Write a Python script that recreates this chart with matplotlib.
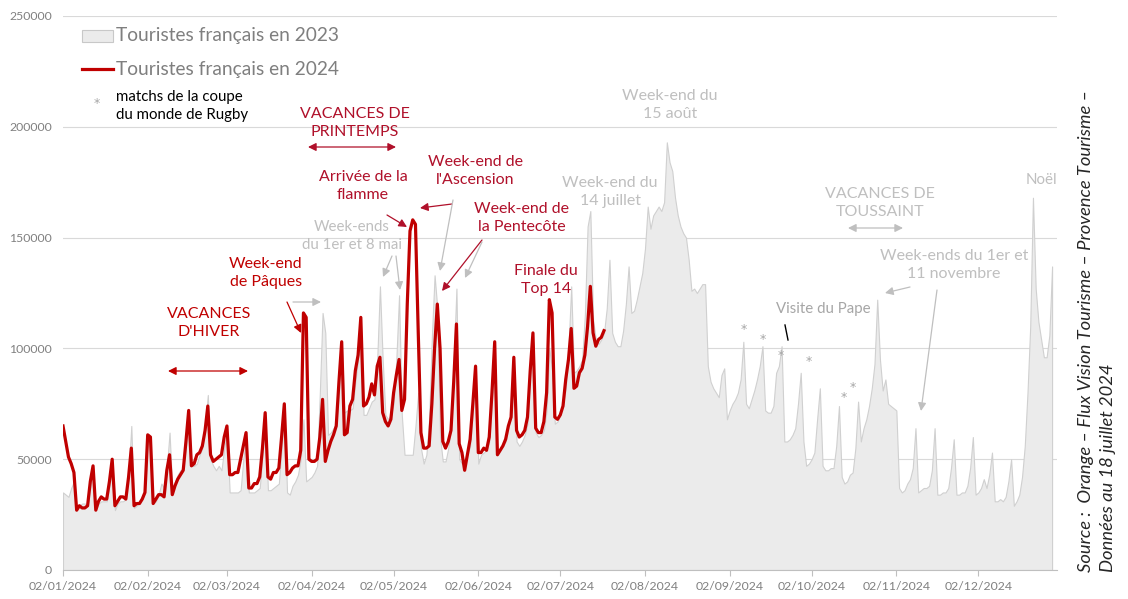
import pandas as pd
import matplotlib
matplotlib.use('Agg')
import matplotlib.pyplot as plt
import matplotlib.dates as mdates
from matplotlib.patches import Rectangle
from matplotlib.lines import Line2D

plt.rcParams['font.family'] = ['Lato', 'DejaVu Sans']

# French tourists per day (thousands); each row is one week, Tuesday -> Monday
tour_2023 = [
    35, 34, 33, 37, 40, 27, 29,
    30, 30, 29, 37, 46, 27, 30,
    31, 31, 31, 38, 49, 27, 30,
    31, 31, 32, 43, 65, 28, 29,
    31, 32, 35, 60, 58, 30, 31,
    34, 39, 37, 46, 62, 36, 40,
    43, 45, 46, 56, 70, 47, 47,
    48, 52, 55, 65, 79, 50, 47,
    45, 47, 45, 55, 62, 35, 35,
    35, 35, 36, 50, 60, 35, 35,
    35, 36, 37, 52, 70, 36, 36,
    37, 38, 39, 55, 73, 35, 34,
    38, 40, 43, 50, 68, 40, 41,
    42, 44, 47, 80, 116, 107, 61,
    62, 64, 66, 80, 103, 71, 72,
    72, 73, 85, 95, 112, 70, 70,
    73, 76, 77, 95, 128, 95, 70,
    68, 70, 75, 95, 124, 70, 52,
    52, 52, 52, 65, 80, 55, 48,
    52, 68, 105, 133, 118, 60, 49,
    49, 55, 65, 95, 127, 50, 48,
    47, 52, 56, 72, 90, 48, 52,
    53, 54, 58, 78, 100, 53, 54,
    56, 58, 64, 70, 93, 58, 56,
    58, 61, 66, 88, 104, 62, 60,
    61, 63, 72, 100, 90, 66, 67,
    70, 75, 82, 100, 128, 89, 90,
    92, 95, 115, 155, 162, 113, 104,
    102, 104, 107, 118, 140, 107, 103,
    101, 101, 108, 120, 137, 116, 117,
    122, 128, 134, 145, 164, 154, 160,
    162, 164, 162, 166, 193, 184, 180,
    168, 160, 155, 152, 150, 140, 126,
    127, 125, 127, 129, 129, 92, 85,
    82, 80, 78, 88, 91, 68, 72,
    75, 77, 80, 86, 103, 75, 73,
    77, 81, 86, 92, 101, 72, 71,
    71, 74, 89, 92, 101, 58, 58,
    59, 61, 64, 75, 89, 58, 47,
    48, 50, 53, 68, 82, 47, 45,
    45, 46, 46, 56, 74, 42, 39,
    40, 43, 44, 55, 76, 58, 64,
    68, 74, 82, 93, 122, 95, 81,
    86, 75, 74, 73, 72, 37, 35,
    36, 39, 41, 46, 64, 35, 36,
    37, 37, 38, 45, 64, 34, 34,
    35, 35, 37, 46, 59, 34, 34,
    35, 35, 38, 46, 60, 34, 35,
    37, 41, 37, 43, 53, 31, 31,
    32, 31, 33, 40, 50, 29, 31,
    34, 42, 56, 80, 110, 168, 127,
    112, 104, 96, 96, 106, 137,
]

tour_2024 = [
    65, 58, 51, 48, 44, 27, 29,
    28, 28, 29, 40, 47, 27, 31,
    33, 32, 32, 40, 50, 29, 31,
    33, 33, 32, 42, 55, 29, 30,
    30, 32, 35, 61, 60, 30, 32,
    34, 34, 33, 45, 52, 34, 38,
    41, 43, 45, 58, 72, 47, 48,
    52, 53, 56, 63, 74, 52, 49,
    50, 51, 52, 60, 65, 43, 43,
    44, 44, 50, 56, 62, 37, 37,
    39, 39, 42, 55, 71, 42, 41,
    44, 44, 46, 60, 75, 43, 44,
    46, 47, 47, 54, 116, 114, 50,
    49, 49, 50, 60, 77, 49, 54,
    58, 61, 65, 85, 103, 61, 62,
    74, 77, 90, 97, 114, 74, 75,
    78, 84, 79, 92, 96, 71, 67,
    65, 68, 80, 88, 95, 72, 77,
    120, 153, 158, 156, 108, 62, 55,
    55, 56, 75, 100, 120, 100, 58,
    55, 58, 63, 85, 111, 57, 53,
    45, 52, 59, 75, 92, 53, 53,
    55, 54, 60, 80, 103, 52, 54,
    56, 59, 65, 69, 96, 63, 60,
    61, 63, 69, 90, 107, 64, 62,
    62, 67, 80, 122, 116, 69, 68,
    70, 74, 86, 95, 109, 82, 83,
    89, 91, 97, 110, 128, 107, 101,
    104, 105, 108,
]

y_ticks = [0, 50000, 100000, 150000, 200000, 250000]
tick_dates = [pd.Timestamp(2024, m, 2) for m in range(1, 13)]

W, H = 1128, 599
start = pd.Timestamp('2024-01-02')
x23 = pd.date_range(start, periods=len(tour_2023), freq='D')
x24 = pd.date_range(start, periods=len(tour_2024), freq='D')
y23 = [v * 1000 for v in tour_2023]
y24 = [v * 1000 for v in tour_2024]


def P(x, y):
    # pixel position in the picture -> figure fraction
    return (x / W, 1 - y / H)


fig = plt.figure(figsize=(W / 100, H / 100), dpi=100)
ax = fig.add_axes([63 / W, 29 / H, 994 / W, 554 / H])

ax.fill_between(x23, 0, y23, facecolor='#EBEBEB', edgecolor='#D0D0D0', lw=0.8, zorder=2)
ax.plot(x24, y24, color='#C00000', lw=2.3, zorder=3)

x0 = mdates.date2num(start)
ax.set_xlim(x0, x0 + 363.8)
ax.set_ylim(0, 250000)
ax.set_yticks(y_ticks)
ax.set_yticklabels([str(v) for v in y_ticks])
ax.set_xticks(tick_dates)
ax.set_xticklabels([d.strftime('%d/%m/%Y') for d in tick_dates])
ax.tick_params(axis='y', length=0, pad=8, labelsize=8.8, labelcolor='#808080')
ax.tick_params(axis='x', length=4, color='#BFBFBF', pad=4, labelsize=8.8, labelcolor='#808080')
ax.grid(axis='y', color='#D9D9D9', lw=0.8, zorder=0)
ax.set_axisbelow(True)
for s in ['top', 'right', 'left']:
    ax.spines[s].set_visible(False)
ax.spines['bottom'].set_color('#BFBFBF')

# legend
fig.add_artist(Rectangle(P(82, 42), 31 / W, 12 / H, transform=fig.transFigure,
                         facecolor='#EBEBEB', edgecolor='#C8C8C8', lw=0.8))
fig.add_artist(Line2D([82 / W, 113 / W], [1 - 69 / H, 1 - 69 / H], transform=fig.transFigure,
                      color='#C00000', lw=2.3))
fig.text(*P(116, 36), 'Touristes français en 2023', color='#7F7F7F', fontsize=13.8, va='center')
fig.text(*P(116, 69), 'Touristes français en 2024', color='#7F7F7F', fontsize=13.8, va='center')
fig.text(*P(97, 103), '*', color='#A6A6A6', fontsize=9, ha='center', va='center',
         family='DejaVu Sans')
fig.text(*P(116, 106), 'matchs de la coupe\ndu monde de Rugby', color='black', fontsize=10.8,
         va='center', linespacing=1.3)

red = '#C00000'
dred = '#B0102A'
grey = '#BFBFBF'


def label(x, y, s, c, fs=11.5):
    fig.text(*P(x, y), s, color=c, fontsize=fs, ha='center', va='center', linespacing=1.3)


def arrow(x1, y1, x2, y2, c, style='-|>'):
    ax.annotate('', xy=P(x2, y2), xycoords='figure fraction', xytext=P(x1, y1),
                textcoords='figure fraction',
                arrowprops=dict(arrowstyle=style, color=c, lw=0.9, mutation_scale=12,
                                shrinkA=0, shrinkB=0))


# red annotations
label(209, 323, "VACANCES\nD'HIVER", red)
arrow(168, 371, 248, 371, red, '<|-|>')
label(266, 273, 'Week-end\nde Pâques', red)
arrow(287, 302, 301, 333, red)
label(355, 123, 'VACANCES DE\nPRINTEMPS', dred)
arrow(308, 147, 396, 147, dred, '<|-|>')
label(363, 186, 'Arrivée de la\nflamme', dred)
arrow(387, 215, 407, 227, dred)
label(475, 171, "Week-end de\nl'Ascension", dred)
arrow(452, 204, 420, 208, dred)
label(522, 218, 'Week-end de\nla Pentecôte', dred)
arrow(482, 240, 442, 291, dred)
label(546, 280, 'Finale du\nTop 14', dred)

# grey annotations
label(352, 236, 'Week-ends\ndu 1er et 8 mai', grey, 10.8)
arrow(392, 256, 383, 277, grey)
arrow(396, 256, 400, 290, grey)
arrow(293, 302, 321, 302, grey)
arrow(453, 200, 440, 271, grey)
arrow(482, 242, 465, 278, grey)
label(610, 192, 'Week-end du\n14 juillet', grey)
label(670, 105, 'Week-end du\n15 août', grey)
label(880, 203, 'VACANCES DE\nTOUSSAINT', grey)
arrow(848, 228, 903, 228, grey, '<|-|>')
label(954, 265, 'Week-ends du 1er et\n11 novembre', grey)
arrow(910, 287, 885, 293, grey)
arrow(937, 290, 921, 411, grey)
label(823, 309, 'Visite du Pape', '#A6A6A6', 10.8)
fig.add_artist(Line2D([785 / W, 788 / W], [1 - 325 / H, 1 - 340 / H], transform=fig.transFigure,
                      color='black', lw=1))
label(1041, 180, 'Noël', grey, 10.8)
for sx, sy in [(744, 329), (763, 339), (781, 355), (809, 361), (844, 397), (853, 388)]:
    fig.text(*P(sx, sy), '*', color='#A6A6A6', fontsize=9, ha='center', va='center',
             family='DejaVu Sans')

# source, written vertically
fig.text(*P(1086, 572), 'Source :  Orange – Flux Vision Tourisme – Provence Tourisme –',
         rotation=90, ha='center', va='bottom', fontsize=13.2, style='italic', color='#262626')
fig.text(*P(1108, 572), 'Données au 18 juillet 2024',
         rotation=90, ha='center', va='bottom', fontsize=13.2, style='italic', color='#262626')

fig.savefig('out.png', dpi=100)
